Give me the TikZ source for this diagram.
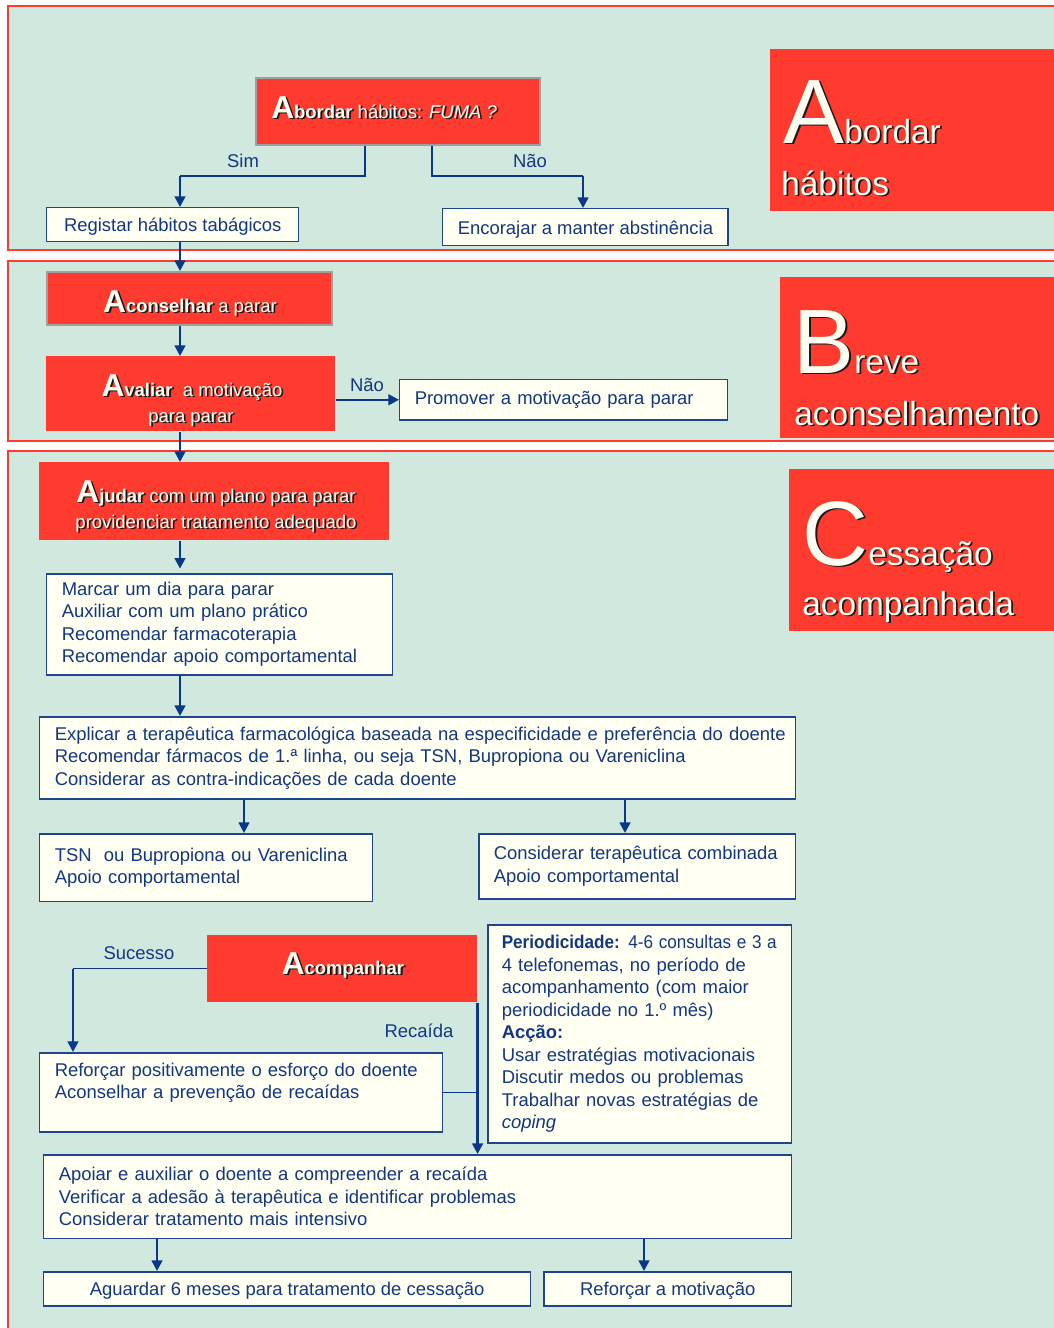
\documentclass[tikz,border=0pt]{standalone}
\usepackage{graphicx}
\usepackage{fontspec}
\setmainfont{Liberation Sans}
\usetikzlibrary{arrows.meta}
\definecolor{redfill}{RGB}{255,59,48}
\definecolor{mint}{RGB}{208,232,222}
\definecolor{cream}{RGB}{255,255,242}
\definecolor{boxblue}{RGB}{30,70,140}
\definecolor{textblue}{RGB}{20,55,130}
\definecolor{lineblue}{RGB}{10,55,135}
\newcommand{\boxcap}[1]{{\fontsize{18}{18}\selectfont\bfseries #1}}
\newcommand{\titlecap}[1]{{\fontsize{52}{52}\selectfont #1}}
\newcommand{\shadowtext}[4]{%
  \node[#2,text=black!90] (#1-s) at ([shift={(1.8,1.8)}]#3) {#4};
  \node[#2,text=cream] (#1) at (#3) {#4};}

\begin{document}
\begin{tikzpicture}[x=0.02cm,y=-0.02cm,font=\fontsize{10.5}{12.8}\selectfont,text=textblue,
  frame/.style={draw=redfill,fill=mint,line width=1.3pt},
  panel/.style={fill=redfill},
  box/.style={draw=boxblue,fill=cream,line width=0.85pt,anchor=north west,inner xsep=8.54pt,inner ysep=0pt},
  onebox/.style={box,text height=9pt,text depth=1pt},
  leftbox/.style={box,align=left},
  redbox/.style={fill=redfill,anchor=north west,inner sep=0pt},
  edged/.style={draw=gray!75,line width=1pt},
  redtxt/.style={inner sep=0pt},
  title/.style={font=\fontsize{19}{19}\selectfont,anchor=base west,inner sep=0pt},
  flow/.style={draw=lineblue,line width=1.4pt,-{Triangle[width=6pt,length=6pt]}},
  link/.style={draw=lineblue,line width=0.75pt},
  lbl/.style={inner sep=0pt}]
\useasboundingbox (0,0) rectangle (1054,1328);
\fill[white] (0,0) rectangle (1054,1328);
\clip (0,0) rectangle (1054,1328);
\draw[frame] (8,6) rectangle (1070,250);
\draw[frame] (8,261) rectangle (1070,441);
\draw[frame] (8,451) rectangle (1070,1345);
\fill[panel] (770,49) rectangle (1070,211);
\fill[panel] (780,277) rectangle (1070,438);
\fill[panel] (789,469) rectangle (1070,631);
\shadowtext{tA1}{title}{783,143}{\titlecap{A}bordar}
\shadowtext{tA2}{title}{781,195}{hábitos}
\shadowtext{tB1}{title}{793,373}{\titlecap{B}reve}
\shadowtext{tB2}{title}{794,425}{aconselhamento}
\shadowtext{tC1}{title}{802,565}{\titlecap{C}essação}
\shadowtext{tC2}{title}{802,615}{acompanhada}

\node[redbox,edged,minimum width=161.6pt,minimum height=38.1pt] (abordar) at (255,77) {};
\node[redbox,edged,minimum width=162.2pt,minimum height=30.2pt] (aconselhar) at (46,271) {};
\node[redbox,minimum width=164.5pt,minimum height=42.7pt] (avaliar) at (46,356) {};
\node[redbox,minimum width=199.2pt,minimum height=44.4pt] (ajudar) at (39,462) {};
\node[redbox,minimum width=153.6pt,minimum height=38.1pt] (acompanhar) at (207,935) {};
\shadowtext{abordar-t}{redtxt,anchor=base west}{271,118}{\boxcap{A}\textbf{bordar} hábitos: \textit{FUMA ?}}
\shadowtext{aconselhar-t}{redtxt,anchor=base}{190,312}{\boxcap{A}\textbf{conselhar} a parar}
\shadowtext{avaliar-t}{redtxt,anchor=base}{192,396}{\boxcap{A}\textbf{valiar}\ \ a motivação}
\shadowtext{avaliar-u}{redtxt,anchor=base}{191,422}{para parar}
\shadowtext{ajudar-t}{redtxt,anchor=base}{216,502}{\boxcap{A}\textbf{judar} com um plano para parar}
\shadowtext{ajudar-u}{redtxt,anchor=base}{216,528}{providenciar tratamento adequado}
\shadowtext{acompanhar-t}{redtxt,anchor=base}{343,974}{\boxcap{A}\textbf{companhar}}

\node[onebox,minimum width=143.4pt,minimum height=19.35pt] (registar) at (46,207) {Registar hábitos tabágicos};
\node[onebox,minimum width=162.2pt,minimum height=21.05pt] (encorajar) at (442,208) {Encorajar a manter abstinência};
\node[leftbox,text width=169.5pt,minimum height=22.8pt] (promover) at (399,379) {Promover a motivação para parar};
\node[leftbox,text width=179.8pt,minimum height=57.5pt] (marcar) at (46,573) {Marcar um dia para parar\\Auxiliar com um plano prático\\Recomendar farmacoterapia\\Recomendar apoio comportamental};
\node[leftbox,text width=413.1pt,minimum height=46.7pt] (explicar) at (39,716) {\resizebox{416pt}{\height}{Explicar a terapêutica farmacológica baseada na especificidade e preferência do doente}\\Recomendar fármacos de 1.ª linha, ou seja TSN, Bupropiona ou Vareniclina\\Considerar as contra-indicações de cada doente};
\node[leftbox,text width=172.4pt,minimum height=38.7pt] (tsn) at (39,833) {TSN\ \ ou Bupropiona ou Vareniclina\\Apoio comportamental};
\node[leftbox,text width=163.3pt,minimum height=37pt] (considerar) at (478,833) {Considerar terapêutica combinada\\Apoio comportamental};
\node[leftbox,text width=212.2pt,minimum height=45pt] (reforcar) at (39,1052) {Reforçar positivamente o esforço do doente\\Aconselhar a prevenção de recaídas\\\mbox{}};
\node[leftbox,inner xsep=8pt,text width=157pt,minimum height=124.1pt] (periodo) at (487,924) {\resizebox{156.5pt}{\height}{\textbf{Periodicidade:} 4-6 consultas e 3 a}\\4 telefonemas, no período de\\acompanhamento (com maior\\periodicidade no 1.º mês)\\\textbf{Acção:}\\Usar estratégias motivacionais\\Discutir medos ou problemas\\Trabalhar novas estratégias de\\\textit{coping}};
\node[leftbox,text width=408.6pt,minimum height=47.8pt] (apoiar) at (43,1154) {Apoiar e auxiliar o doente a compreender a recaída\\Verificar a adesão à terapêutica e identificar problemas\\Considerar tratamento mais intensivo};
\node[onebox,minimum width=277.1pt,minimum height=19.35pt] (aguardar) at (43,1271) {Aguardar 6 meses para tratamento de cessação};
\node[onebox,minimum width=141.1pt,minimum height=19.35pt] (reforcarmot) at (543,1271) {Reforçar a motivação};

\coordinate (simx) at (365,0);
\coordinate (simbend) at (180,176);
\coordinate (naox) at (432,0);
\coordinate (naobend) at (583,176);
\coordinate (colx) at (180,0);
\coordinate (tsnx) at (244,0);
\coordinate (combx) at (625,0);
\coordinate (sucx) at (73,0);
\coordinate (aguardx) at (157,0);
\coordinate (motx) at (644,0);
\draw[link] (abordar.south -| simx) |- (simbend);
\draw[flow] (simbend) -- (registar.north -| simbend);
\draw[link] (abordar.south -| naox) |- (naobend);
\draw[flow] (naobend) -- (encorajar.north -| naobend);
\draw[flow] (registar.south -| colx) -- (aconselhar.north -| colx);
\draw[flow] (aconselhar.south -| colx) -- (avaliar.north -| colx);
\draw[flow] (avaliar.east |- promover.west) -- (promover.west);
\draw[flow] (avaliar.south -| colx) -- (ajudar.north -| colx);
\draw[flow,shorten >=2.5pt] (ajudar.south -| colx) -- (marcar.north -| colx);
\draw[flow] (marcar.south -| colx) -- (explicar.north -| colx);
\draw[flow] (explicar.south -| tsnx) -- (tsn.north -| tsnx);
\draw[flow] (explicar.south -| combx) -- (considerar.north -| combx);
\draw[link] (acompanhar.west) -- (acompanhar.west -| sucx);
\draw[flow] (acompanhar.west -| sucx) -- (reforcar.north -| sucx);
\draw[flow] (acompanhar.south east) -- (apoiar.north -| acompanhar.south east);
\draw[link] (reforcar.east) -- (reforcar.east -| acompanhar.east);
\draw[flow] (apoiar.south -| aguardx) -- (aguardar.north -| aguardx);
\draw[flow] (apoiar.south -| motx) -- (reforcarmot.north -| motx);
\node[lbl] (sim) at (243,161) {Sim};
\node[lbl] (nao) at (530,161) {Não};
\node[lbl] (nao2) at (367,385) {Não};
\node[lbl] (sucesso) at (139,953) {Sucesso};
\node[lbl] (recaida) at (419,1031) {Recaída};
\end{tikzpicture}
\end{document}
